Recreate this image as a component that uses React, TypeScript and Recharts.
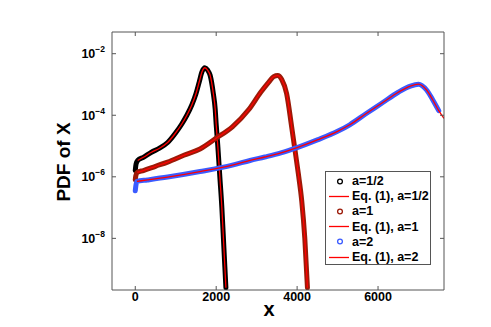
import { LineChart, Line, XAxis, YAxis } from "recharts";

// a = 1/2
const halfX = [0, 20, 60, 200, 400, 600, 800, 1000, 1150, 1275, 1400, 1500, 1580, 1650, 1720, 1790, 1850, 1930, 1975, 2000, 2040, 2090, 2140, 2190, 2240];
const halfPdf = [1.6e-6, 2.6e-6, 3.4e-6, 4.3e-6, 6.3e-6, 8.5e-6, 1.3e-5, 2.7e-5, 5.2e-5, 1.0e-4, 2.2e-4, 5.0e-4, 1.2e-3, 2.6e-3, 3.5e-3, 2.9e-3, 2.0e-3, 5.0e-4, 1.6e-4, 5.0e-5, 1.0e-5, 1.0e-6, 1.0e-7, 5.0e-9, 2.5e-10];

// a = 1
const oneX = [0, 15, 50, 200, 500, 800, 1200, 1600, 2000, 2400, 2800, 3100, 3300, 3420, 3520, 3620, 3740, 3864, 3946, 4030, 4115, 4190, 4255];
const onePdf = [8.0e-7, 1.1e-6, 1.4e-6, 1.6e-6, 2.2e-6, 3.0e-6, 5.0e-6, 8.0e-6, 1.8e-5, 4.2e-5, 1.5e-4, 5.6e-4, 1.2e-3, 1.8e-3, 1.95e-3, 1.45e-3, 5.1e-4, 4.3e-5, 7.6e-6, 1.26e-6, 1.6e-7, 1.0e-8, 2.5e-10];

// a = 2
const twoX = [0, 15, 40, 300, 800, 1600, 2400, 2836, 3200, 3600, 4000, 4500, 5000, 5300, 5700, 6100, 6500, 6800, 7000, 7200, 7350, 7500];
const twoPdf = [3.5e-7, 5.2e-7, 7.1e-7, 7.9e-7, 9.8e-7, 1.48e-6, 2.4e-6, 3.4e-6, 4.4e-6, 6.0e-6, 8.9e-6, 1.58e-5, 3.0e-5, 4.9e-5, 1.12e-4, 2.5e-4, 5.6e-4, 8.9e-4, 1.02e-3, 6.6e-4, 3.2e-4, 1.41e-4];
const twoEqTailX = [7630];
const twoEqTailPdf = [7.9e-5];

const xTicks = [0, 2000, 4000, 6000];
const yTicks = [1e-8, 1e-6, 1e-4, 1e-2];

const legendItems = [
  { label: "a=1/2", kind: "dot", color: "#000000" },
  { label: "Eq. (1), a=1/2", kind: "line", color: "#ff0000" },
  { label: "a=1", kind: "dot", color: "#9c1a08" },
  { label: "Eq. (1), a=1", kind: "line", color: "#ff0000" },
  { label: "a=2", kind: "dot", color: "#3b5bff" },
  { label: "Eq. (1), a=2", kind: "line", color: "#ff0000" },
];

const toPoints = (xs: number[], ys: number[]) => xs.map((x, i) => ({ x, y: ys[i] }));

const halfPts = toPoints(halfX, halfPdf);
const onePts = toPoints(oneX, onePdf);
const twoPts = toPoints(twoX, twoPdf);
const twoEqPts = [...twoPts, ...toPoints(twoEqTailX, twoEqTailPdf)];

const FONT = "'Liberation Sans', Arial, Helvetica, sans-serif";
const AXIS = "#555555";

const XTick = (props: any) => {
  const { x, y, payload } = props;
  return (
    <text x={x} y={y + 9} textAnchor="middle" fontFamily={FONT} fontWeight="bold" fontSize={12.5} fill="#000">
      {payload.value}
    </text>
  );
};

const YTick = (props: any) => {
  const { x, y, payload } = props;
  const exp = Math.round(Math.log10(payload.value));
  return (
    <text x={x} y={y + 4.5} textAnchor="end" fontFamily={FONT} fontWeight="bold" fontSize={12.5} fill="#000">
      10
      <tspan dy={-6} fontSize={8.5}>{"\u2212" + Math.abs(exp)}</tspan>
    </text>
  );
};

const Empty = () => <g />;

export default function App() {
  return (
    <div style={{ position: "absolute", left: 0, top: 0, width: 491, height: 327, background: "#fff" }}>
      <LineChart width={491} height={327} margin={{ top: 31, right: 46, bottom: 7, left: 62 }}>
        <XAxis
          xAxisId="b"
          dataKey="x"
          type="number"
          domain={[-575, 7630]}
          ticks={xTicks}
          allowDataOverflow
          height={30}
          stroke={AXIS}
          tickSize={-4}
          tickMargin={6}
          tick={<XTick />}
        />
        <XAxis
          xAxisId="t"
          orientation="top"
          dataKey="x"
          type="number"
          domain={[-575, 7630]}
          ticks={xTicks}
          allowDataOverflow
          height={1}
          stroke={AXIS}
          tickSize={-4}
          tick={<Empty />}
        />
        <YAxis
          yAxisId="l"
          type="number"
          scale="log"
          domain={[2.1e-10, 0.0507]}
          ticks={yTicks}
          allowDataOverflow
          width={50}
          stroke={AXIS}
          tickSize={-4}
          tickMargin={11}
          tick={<YTick />}
        />
        <YAxis
          yAxisId="r"
          orientation="right"
          type="number"
          scale="log"
          domain={[2.1e-10, 0.0507]}
          ticks={yTicks}
          allowDataOverflow
          width={1}
          stroke={AXIS}
          tickSize={-4}
          tick={<Empty />}
        />
        <Line xAxisId="b" yAxisId="l" type="monotone" data={halfPts} dataKey="y" stroke="#000000" strokeWidth={5} dot={false} strokeLinecap="round" strokeLinejoin="round" isAnimationActive={false} />
        <Line xAxisId="b" yAxisId="l" type="monotone" data={halfPts.slice(2)} dataKey="y" stroke="#ff0000" strokeWidth={1.3} dot={false} isAnimationActive={false} />
        <Line xAxisId="b" yAxisId="l" type="monotone" data={onePts} dataKey="y" stroke="#9c1a08" strokeWidth={5} dot={false} strokeLinecap="round" strokeLinejoin="round" isAnimationActive={false} />
        <Line xAxisId="b" yAxisId="l" type="monotone" data={onePts.slice(2)} dataKey="y" stroke="#ff0000" strokeWidth={1.3} dot={false} isAnimationActive={false} />
        <Line xAxisId="b" yAxisId="l" type="monotone" data={twoPts} dataKey="y" stroke="#3b5bff" strokeWidth={5} dot={false} strokeLinecap="round" strokeLinejoin="round" isAnimationActive={false} />
        <Line xAxisId="b" yAxisId="l" type="monotone" data={twoEqPts.slice(2)} dataKey="y" stroke="#ff0000" strokeWidth={1.3} dot={false} isAnimationActive={false} />
      </LineChart>

      <div
        style={{
          position: "absolute",
          left: 64,
          top: 162,
          transform: "translate(-50%, -50%) rotate(-90deg)",
          fontFamily: FONT,
          fontWeight: "bold",
          fontSize: 19,
          whiteSpace: "nowrap",
          color: "#000",
        }}
      >
        PDF of X
      </div>
      <div
        style={{
          position: "absolute",
          left: 269,
          top: 309,
          transform: "translate(-50%, -50%)",
          fontFamily: FONT,
          fontWeight: "bold",
          fontSize: 20,
          color: "#000",
        }}
      >
        x
      </div>

      <div
        style={{
          position: "absolute",
          left: 325,
          top: 171,
          width: 104,
          height: 92,
          border: `1px solid ${AXIS}`,
          background: "#fff",
          fontFamily: FONT,
          fontWeight: "bold",
          fontSize: 12.5,
          color: "#000",
        }}
      >
        {legendItems.map((item, i) => (
          <div key={i} style={{ position: "absolute", left: 0, top: 1.5 + i * 15.2, height: 15.2, width: 130, display: "flex", alignItems: "center" }}>
            <svg width={25} height={15} style={{ flex: "none" }}>
              {item.kind === "dot" ? (
                <circle cx={14} cy={7.5} r={2.4} fill="none" stroke={item.color} strokeWidth={1.3} />
              ) : (
                <line x1={3} x2={23} y1={7.5} y2={7.5} stroke={item.color} strokeWidth={1.3} />
              )}
            </svg>
            <span style={{ marginLeft: 1, whiteSpace: "nowrap" }}>{item.label}</span>
          </div>
        ))}
      </div>
    </div>
  );
}
